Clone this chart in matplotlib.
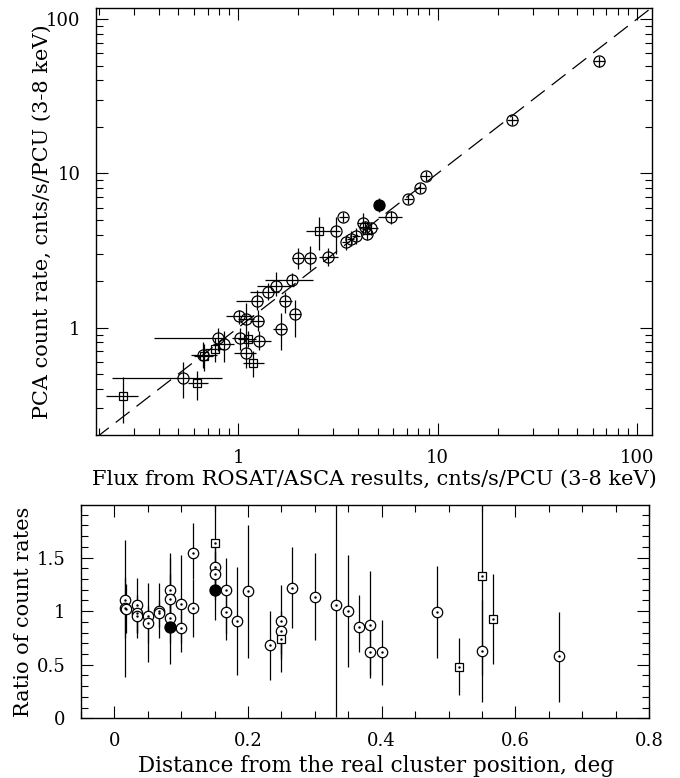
import numpy as np
import matplotlib.pyplot as plt
from matplotlib.ticker import FuncFormatter, MultipleLocator, LogLocator

# upper panel: flux from ROSAT/ASCA vs PCA count rate
flux = [64.5, 23.7, 8.71, 8.15, 7.12, 5.09, 5.81, 4.20, 4.31, 4.43, 4.63, 3.45, 3.66, 3.89,
        3.36, 2.54, 3.08, 1.99, 2.29, 2.83, 1.86, 1.55, 1.41, 1.24, 1.72, 1.92, 1.01, 1.09,
        1.25, 1.64, 0.787, 0.847, 1.02, 1.12, 1.27, 0.766, 0.667, 0.675, 1.09, 1.19, 0.53,
        0.622, 0.265]
flux_lo = [60, 22.2, 8.2, 7.7, 6.8, 4.9, 5.0, 3.95, 4.1, 4.2, 4.4, 3.3, 3.5, 3.7,
           3.2, 2.18, 2.9, 1.85, 2.15, 2.55, 1.36, 1.24, 1.15, 0.97, 1.6, 1.8, 0.87, 1.0,
           1.15, 1.5, 0.375, 0.75, 0.93, 1.0, 1.12, 0.68, 0.58, 0.6, 0.95, 1.05, 0.233,
           0.56, 0.216]
flux_hi = [69, 25.3, 9.2, 8.6, 7.5, 5.3, 6.6, 4.45, 4.6, 4.7, 5.0, 3.6, 3.8, 4.1,
           3.55, 3.0, 3.25, 2.15, 2.45, 3.16, 2.37, 1.9, 1.6, 1.33, 1.85, 2.05, 1.19, 1.2,
           1.35, 1.75, 0.87, 0.95, 1.12, 1.22, 1.45, 0.85, 0.78, 0.75, 1.22, 1.35, 0.825,
           0.70, 0.313]
rate = [53.5, 22.1, 9.64, 8.0, 6.81, 6.21, 5.19, 4.74, 4.47, 4.05, 4.42, 3.61, 3.77, 3.93,
        5.21, 4.22, 4.22, 2.84, 2.84, 2.86, 2.04, 1.87, 1.71, 1.49, 1.49, 1.22, 1.18, 1.14,
        1.10, 0.975, 0.853, 0.783, 0.853, 0.84, 0.822, 0.726, 0.667, 0.65, 0.687, 0.587, 0.47,
        0.44, 0.36]
rate_lo = [49, 20.7, 8.9, 7.4, 6.3, 5.6, 4.7, 4.0, 4.1, 3.7, 4.0, 3.2, 3.4, 3.5,
           4.8, 3.2, 3.0, 2.4, 2.35, 2.5, 1.85, 1.6, 1.5, 1.3, 1.25, 0.87, 1.05, 0.85,
           0.95, 0.72, 0.7, 0.6, 0.72, 0.75, 0.72, 0.6, 0.55, 0.52, 0.55, 0.48, 0.35,
           0.34, 0.24]
rate_hi = [58, 23.5, 10.4, 8.7, 7.3, 6.9, 5.7, 5.5, 4.9, 4.5, 4.8, 4.0, 4.2, 4.4,
           5.6, 5.24, 5.2, 3.3, 3.4, 3.3, 2.25, 2.3, 1.95, 1.75, 1.7, 1.51, 1.3, 1.45,
           1.3, 1.24, 1.0, 0.95, 1.0, 0.95, 0.95, 0.85, 0.8, 0.78, 0.85, 0.7, 0.6,
           0.52, 0.48]
kind_top = ['o', 'o', 'o', 'o', 'o', 'f', 'o', 'o', 'o', 'o', 'o', 'o', 'o', 'o',
            'o', 's', 'o', 'o', 'o', 'o', 'o', 'o', 'o', 'o', 'o', 'o', 'o', 'o',
            'o', 'o', 'o', 'o', 'o', 's', 'o', 's', 'o', 's', 'o', 's', 'o',
            's', 's']

# lower panel: ratio of count rates vs offset
dist = [0.016, 0.016, 0.017, 0.034, 0.034, 0.034, 0.05, 0.05, 0.067, 0.067, 0.083, 0.083,
        0.083, 0.083, 0.1, 0.1, 0.117, 0.117, 0.15, 0.15, 0.15, 0.15, 0.167, 0.167, 0.183,
        0.2, 0.233, 0.249, 0.249, 0.249, 0.266, 0.3, 0.332, 0.349, 0.366, 0.383, 0.383,
        0.4, 0.483, 0.516, 0.55, 0.55, 0.566, 0.666]
ratio = [1.10, 1.03, 1.02, 1.06, 0.98, 0.95, 0.95, 0.885, 1.0, 0.98, 1.195, 1.11,
         0.94, 0.853, 1.07, 0.84, 1.54, 1.03, 1.64, 1.41, 1.35, 1.20, 1.20, 0.99, 0.91,
         1.185, 0.68, 0.906, 0.81, 0.74, 1.216, 1.13, 1.055, 1.0, 0.853, 0.87, 0.62,
         0.615, 0.993, 0.48, 1.325, 0.627, 0.93, 0.58]
ratio_lo = [0.39, 0.75, 0.8, 0.75, 0.8, 0.8, 0.53, 0.7, 0.75, 0.85, 0.9, 0.85,
            0.7, 0.51, 0.62, 0.7, 1.3, 0.76, 1.1, 1.2, 1.15, 0.92, 0.73, 0.8, 0.40,
            0.56, 0.36, 0.43, 0.6, 0.55, 0.84, 0.73, 0.015, 0.48, 0.62, 0.38, 0.4,
            0.31, 0.56, 0.22, 0.4, 0.15, 0.51, 0.155]
ratio_hi = [1.66, 1.32, 1.25, 1.31, 1.15, 1.1, 1.26, 1.05, 1.26, 1.1, 1.5, 1.35,
            1.2, 1.54, 1.52, 1.0, 1.82, 1.3, 2.1, 1.6, 1.55, 1.45, 1.5, 1.2, 1.41,
            1.8, 1.0, 1.24, 1.0, 0.95, 1.6, 1.54, 2.1, 1.52, 1.15, 1.37, 0.85,
            0.92, 1.42, 0.75, 2.1, 1.1, 1.35, 0.99]
kind_bot = ['o', 'o', 'o', 'o', 'o', 'o', 'o', 'o', 'o', 'o', 'o', 'o',
            'o', 'f', 'o', 'o', 'o', 'o', 's', 'o', 'o', 'f', 'o', 'o', 'o',
            'o', 'o', 'o', 'o', 's', 'o', 'o', 'o', 'o', 'o', 'o', 'o',
            'o', 'o', 's', 's', 'o', 's', 'o']

plt.rcParams['font.family'] = ['DejaVu Serif']
plt.rcParams['font.size'] = 13

fig = plt.figure(figsize=(6.8, 7.78), dpi=100)
ax1 = fig.add_axes([0.1412, 0.4409, 0.8176, 0.5488])
ax2 = fig.add_axes([0.1191, 0.0767, 0.8353, 0.2742])

fmt = FuncFormatter(lambda v, p: '%g' % v)

# upper panel
flux = np.array(flux); rate = np.array(rate)
xe = np.array([flux - np.array(flux_lo), np.array(flux_hi) - flux])
ye = np.array([rate - np.array(rate_lo), np.array(rate_hi) - rate])
kt = np.array(kind_top)
style = {'o': dict(marker='o', ms=8, mfc='none', mec='k', mew=0.9),
         's': dict(marker='s', ms=5.5, mfc='none', mec='k', mew=0.9),
         'f': dict(marker='o', ms=8, mfc='k', mec='k', mew=0.9)}
for k in ['o', 's', 'f']:
    m = kt == k
    ax1.errorbar(flux[m], rate[m], xerr=xe[:, m], yerr=ye[:, m], fmt='none',
                 ecolor='k', elinewidth=0.9, capsize=0)
    ax1.plot(flux[m], rate[m], ls='none', **style[k])

line = np.array([0.15, 120])
ax1.plot(line, line, 'k', lw=0.9, dashes=(14, 7))

ax1.set_xscale('log')
ax1.set_yscale('log')
ax1.set_xlim(0.193, 119)
ax1.set_ylim(0.201, 118)
ax1.xaxis.set_major_formatter(fmt)
ax1.yaxis.set_major_formatter(fmt)
ax1.xaxis.set_minor_formatter(FuncFormatter(lambda v, p: ''))
ax1.yaxis.set_minor_formatter(FuncFormatter(lambda v, p: ''))
ax1.xaxis.set_minor_locator(LogLocator(base=10, subs=np.arange(2, 10)))
ax1.yaxis.set_minor_locator(LogLocator(base=10, subs=np.arange(2, 10)))
ax1.set_xlabel('Flux from ROSAT/ASCA results, cnts/s/PCU (3-8 keV)', fontsize=15, labelpad=2)
ax1.set_ylabel('PCA count rate, cnts/s/PCU (3-8 keV)', fontsize=15, labelpad=-4)

# lower panel
dist = np.array(dist); ratio = np.array(ratio)
re = np.array([ratio - np.array(ratio_lo), np.array(ratio_hi) - ratio])
kb = np.array(kind_bot)
ax2.errorbar(dist, ratio, yerr=re, fmt='none', ecolor='k', elinewidth=0.9, capsize=0)
for k in ['o', 's', 'f']:
    m = kb == k
    st = dict(style[k])
    if k != 'f':
        st['mfc'] = 'white'
    if k == 'o':
        st['ms'] = 7.5
    ax2.plot(dist[m], ratio[m], ls='none', **st)
ax2.plot(dist[kb != 'f'], ratio[kb != 'f'], ls='none', marker='.', ms=1.5, color='k')

ax2.set_xlim(-0.05, 0.8)
ax2.set_ylim(0, 1.99)
ax2.xaxis.set_major_locator(MultipleLocator(0.2))
ax2.xaxis.set_minor_locator(MultipleLocator(0.05))
ax2.yaxis.set_major_locator(MultipleLocator(0.5))
ax2.yaxis.set_minor_locator(MultipleLocator(0.1))
ax2.xaxis.set_major_formatter(fmt)
ax2.yaxis.set_major_formatter(fmt)
ax2.set_xlabel('Distance from the real cluster position, deg', fontsize=15.5, labelpad=2)
ax2.xaxis.set_label_coords(0.52, -0.17)
ax2.set_ylabel('Ratio of count rates', fontsize=15, labelpad=3)

for ax in [ax1, ax2]:
    ax.tick_params(which='both', direction='in', top=True, right=True, width=0.8)
    ax.tick_params(which='major', length=8.5)
    ax.tick_params(which='minor', length=5)
    ax.tick_params(axis='x', which='major', pad=10)
    ax.tick_params(axis='y', which='major', pad=11)
    for s in ax.spines.values():
        s.set_linewidth(1.0)

plt.savefig('out.png', dpi=100)
plt.close()
